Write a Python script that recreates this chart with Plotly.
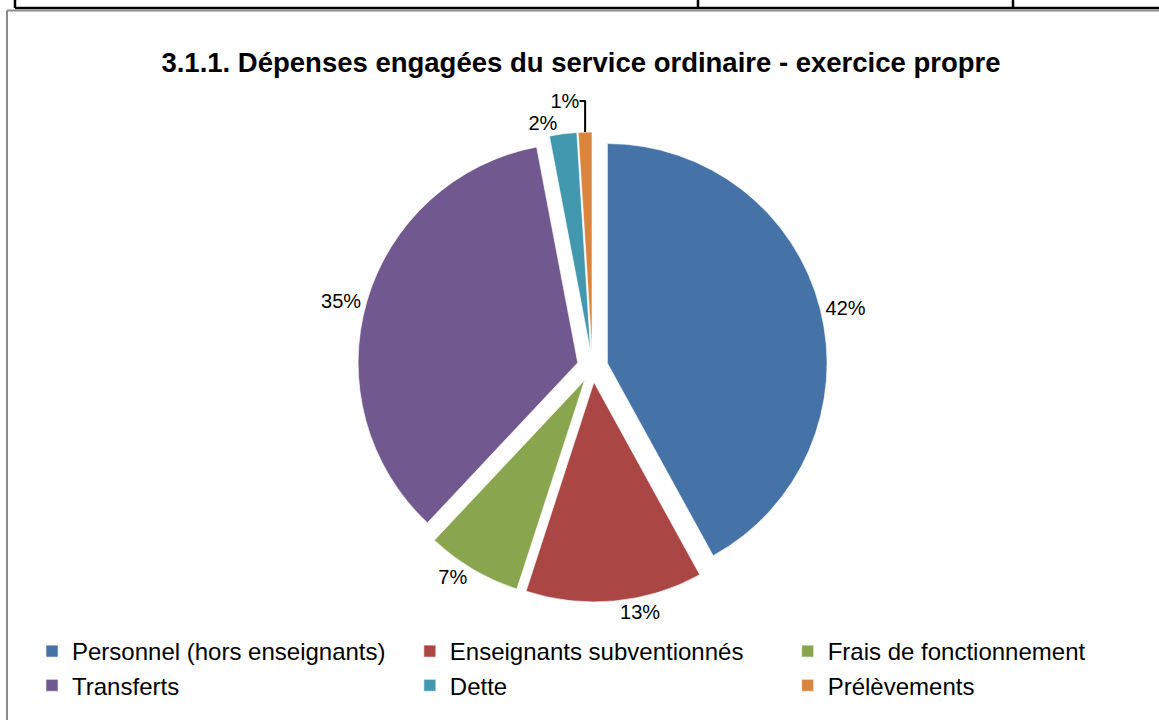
import plotly.graph_objects as go

categories = ["Personnel (hors enseignants)", "Enseignants subventionnés", "Frais de fonctionnement",
              "Transferts", "Dette", "Prélèvements"]
values = [42, 13, 7, 35, 2, 1]
colors = ["#4572A7", "#AA4643", "#89A54E", "#71588F", "#4198AF", "#DB843D"]

W, H = 1159, 720
FONT = "Liberation Sans, Arial, sans-serif"

def px(x):
    return x / W

def py(y):
    return 1 - y / H

fig = go.Figure(go.Pie(
    labels=categories,
    values=values,
    marker=dict(colors=colors, line=dict(color="rgba(255,255,255,0.6)", width=1)),
    sort=False,
    direction="clockwise",
    rotation=0,
    pull=[0.07] * len(values),
    textinfo="percent",
    texttemplate="%{percent:.0%}",
    textposition="outside",
    textfont=dict(size=20, color="#000000", family=FONT),
    domain=dict(x=[px(140), px(1045)], y=[py(602), py(132)]),
    hoverinfo="label+percent",
))

black = dict(color="#000000", width=2.5)
grey = dict(color="#8c8c8c", width=2)
shapes = [
    dict(type="line", xref="paper", yref="paper", x0=px(15), x1=1, y0=py(8), y1=py(8), line=black),
    dict(type="line", xref="paper", yref="paper", x0=px(15), x1=px(15), y0=1, y1=py(8), line=black),
    dict(type="line", xref="paper", yref="paper", x0=px(698), x1=px(698), y0=1, y1=py(8), line=black),
    dict(type="line", xref="paper", yref="paper", x0=px(1013), x1=px(1013), y0=1, y1=py(8), line=black),
    dict(type="line", xref="paper", yref="paper", x0=px(7), x1=1, y0=py(10.5), y1=py(10.5), line=grey),
    dict(type="line", xref="paper", yref="paper", x0=px(7), x1=px(7), y0=py(10.5), y1=0, line=grey),
]

fig.update_layout(
    width=W, height=H,
    autosize=False,
    margin=dict(l=0, r=0, t=0, b=0, autoexpand=False),
    paper_bgcolor="#ffffff",
    plot_bgcolor="#ffffff",
    font=dict(family=FONT, color="#000000"),
    title=dict(text="<b>3.1.1. Dépenses engagées du service ordinaire - exercice propre</b>",
               x=px(581), xanchor="center", y=py(62), yanchor="middle",
               font=dict(size=27.5, family=FONT, color="#000000"),
               automargin=False),
    showlegend=True,
    legend=dict(orientation="h", x=px(32), xanchor="left", y=py(629), yanchor="top",
                entrywidth=0.326, entrywidthmode="fraction", traceorder="normal",
                font=dict(size=24, family=FONT, color="#000000"),
                itemwidth=30, tracegroupgap=0),
    shapes=shapes,
)

fig.write_html("out.html", config={"displayModeBar": False},
               post_script="document.body.style.margin='0';")
